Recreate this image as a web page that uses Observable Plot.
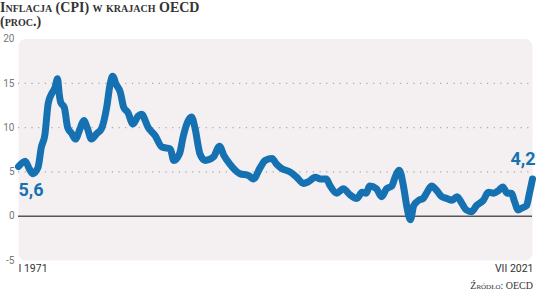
<!DOCTYPE html>
<html>
<head>
<meta charset="utf-8">
<script src="https://cdn.jsdelivr.net/npm/d3@7"></script>
<script src="https://cdn.jsdelivr.net/npm/@observablehq/plot@0.6"></script>
<style>
  html, body { margin: 0; padding: 0; background: #fff; }
  #wrap { position: relative; width: 536px; height: 293px; overflow: hidden; }
  #title { position: absolute; left: 0; top: 1px; font-family: "Liberation Serif", serif; font-weight: bold; font-variant: small-caps; color: #333; font-size: 14px; line-height: 14px; }
  #source { position: absolute; right: 3px; top: 280px; font-family: "Liberation Serif", serif; font-variant: small-caps; color: #333; font-size: 10px; }
  svg { position: absolute; left: 0; top: 0; }
</style>
</head>
<body>
<div id="wrap">
  <div id="chart"></div>
  <div id="title">Inflacja (CPI) w krajach OECD<br>(proc.)</div>
  <div id="source">Źródło: OECD</div>
</div>
<script>
const months = [
  "1971-01","1971-09","1972-02","1972-06","1972-12","1973-04","1973-08","1973-12",
  "1974-04","1974-08","1974-11","1975-01","1975-03","1975-07","1975-11","1976-04",
  "1976-08","1977-02","1977-06","1977-10","1978-03","1978-09","1979-03","1979-09",
  "1980-01","1980-04","1980-08","1981-01","1981-05","1981-10","1982-04","1982-10",
  "1983-02","1983-10","1984-06","1985-02","1985-12","1986-04","1986-11","1987-03",
  "1988-01","1988-05","1988-11","1989-05","1990-03","1990-10","1991-03","1991-10",
  "1992-10","1993-08","1994-02","1994-10","1995-04","1995-12","1996-05","1996-11",
  "1997-09","1998-05","1999-01","1999-07","2000-03","2000-09","2001-04","2001-08",
  "2002-04","2002-12","2003-08","2004-04","2004-10","2005-03","2005-07","2006-03",
  "2006-09","2007-03","2007-09","2008-01","2008-06","2008-11","2009-03","2009-07",
  "2009-11","2010-05","2010-10","2011-02","2011-08","2012-02","2012-08","2013-02",
  "2013-08","2014-02","2014-08","2015-01","2015-07","2016-01","2016-09","2017-03",
  "2017-09","2018-03","2018-08","2019-01","2019-06","2019-10","2020-02","2020-06",
  "2020-12","2021-03","2021-07"
];
const values = [
  5.6, 6.2, 5.3, 4.8, 5.5, 7.8, 9.1, 12.7,
  13.8, 14.5, 15.5, 13.8, 12.8, 12.3, 10.0, 9.3,
  8.7, 10.0, 10.8, 10.0, 8.7, 9.3, 9.9, 12.3,
  14.9, 15.8, 14.9, 14.0, 12.3, 11.7, 10.4, 11.3,
  11.5, 10.0, 9.1, 7.8, 7.6, 6.3, 7.1, 8.9,
  11.2, 10.0, 7.0, 6.3, 6.7, 7.9, 6.9, 5.9,
  4.8, 4.6, 4.2, 5.5, 6.3, 6.5, 5.9, 5.4,
  5.0, 4.4, 3.7, 3.9, 4.4, 4.2, 4.2, 3.5,
  2.6, 3.1, 2.4, 2.0, 2.7, 2.6, 3.4, 3.1,
  2.2, 3.1, 3.4, 4.4, 5.2, 3.3, 1.0, -0.4,
  1.2, 1.8, 2.0, 2.6, 3.4, 2.9, 2.2, 2.0,
  1.8, 2.2, 1.4, 0.7, 0.5, 1.2, 1.8, 2.7,
  2.6, 2.9, 3.3, 2.6, 2.6, 1.6, 0.7, 0.9,
  1.2, 2.4, 4.2
];
const yTicks = [-5, 0, 5, 10, 15, 20];
const gridValues = [5, 10, 15];
const xTickDates = ["1971-01", "2021-07"];
const xTickLabels = ["I 1971", "VII 2021"];
const valueLabels = ["5,6", "4,2"];

const parse = d3.utcParse("%Y-%m");
const data = months.map((m, i) => ({date: parse(m), value: values[i]}));
const first = data[0], last = data[data.length - 1];
const blue = "#1571b1";

const chart = Plot.plot({
  width: 536,
  height: 293,
  marginLeft: 18,
  marginRight: 4,
  marginTop: 38.5,
  marginBottom: 33,
  style: {fontFamily: "Roboto, sans-serif", background: "transparent"},
  x: {type: "utc", axis: null, domain: [parse(xTickDates[0]), parse(xTickDates[1])]},
  y: {domain: [-5, 20], axis: null},
  marks: [
    Plot.frame({fill: "#f4f0f2", stroke: null, rx: 7}),
    Plot.gridY(gridValues, {stroke: "#a8a8a8", strokeOpacity: 1, strokeDasharray: "1.2,5.5", strokeWidth: 1.2}),
    Plot.ruleY([0], {stroke: "#555", strokeWidth: 1.6}),
    Plot.axisY(yTicks, {tickSize: 0, tickPadding: 4, fontSize: 10, fill: "#777", tickFormat: d => String(d), label: null}),
    Plot.line(data, {x: "date", y: "value", stroke: blue, strokeWidth: 7, strokeLinejoin: "round", strokeLinecap: "round", curve: "monotone-x"}),
    Plot.text([first], {x: "date", y: "value", text: () => valueLabels[0], textAnchor: "start", dx: 0, dy: 24, fill: blue, fontSize: 18, fontWeight: "bold"}),
    Plot.text([last], {x: "date", y: "value", text: () => valueLabels[1], textAnchor: "end", dx: 3, dy: -20, fill: blue, fontSize: 18, fontWeight: "bold"}),
    Plot.text([xTickDates[0]], {x: d => parse(d), text: () => xTickLabels[0], frameAnchor: "bottom", dy: 11, textAnchor: "start", fontSize: 10.5, fill: "#333"}),
    Plot.text([xTickDates[1]], {x: d => parse(d), text: () => xTickLabels[1], frameAnchor: "bottom", dy: 11, textAnchor: "end", dx: 1, fontSize: 10.5, fill: "#333"})
  ]
});
document.getElementById("chart").appendChild(chart);
</script>
</body>
</html>
